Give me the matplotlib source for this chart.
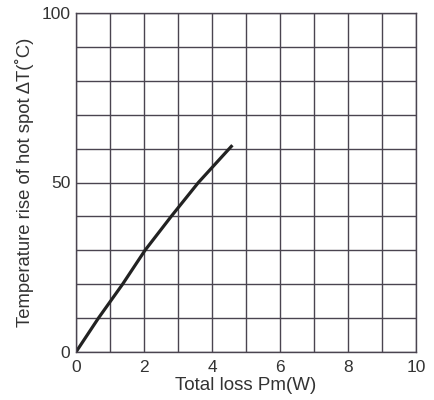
import matplotlib
matplotlib.use("Agg")
import matplotlib.pyplot as plt
import numpy as np

# Data
loss_w = [0.0, 0.66, 1.37, 2.03, 2.8, 3.6, 4.6]
temp_rise = [0.0, 10.0, 20.0, 30.0, 40.0, 50.0, 61.0]

x_ticks = [0, 2, 4, 6, 8, 10]
y_ticks = [0, 50, 100]
x_label = "Total loss Pm(W)"
y_label = "Temperature rise of hot spot \u0394T(\u02daC)"

plt.rcParams['font.family'] = ['Liberation Sans', 'DejaVu Sans']

fig = plt.figure(figsize=(4.35, 4.0), dpi=100)
ax = fig.add_axes([76/435, 48/400, 340/435, 339/400])

grid_color = "#4a4450"
ax.set_xlim(0, 10)
ax.set_ylim(0, 100)
ax.set_xticks(np.arange(0, 11, 1), minor=True)
ax.set_yticks(np.arange(0, 101, 10), minor=True)
ax.set_xticks(x_ticks)
ax.set_yticks(y_ticks)
ax.grid(True, which="both", color=grid_color, linewidth=1.0)
ax.set_axisbelow(True)
for s in ax.spines.values():
    s.set_color(grid_color)
    s.set_linewidth(1.0)
ax.tick_params(which="both", length=0, colors="#333333", labelsize=12.5)
ax.tick_params(axis="x", pad=6)
ax.tick_params(axis="y", pad=4)

ax.plot(loss_w, temp_rise, color="#222222", linewidth=2.3, solid_capstyle="butt")

ax.set_xlabel(x_label, fontsize=13.5, color="#333333", labelpad=1)
ax.set_ylabel(y_label, fontsize=13.3, color="#333333", labelpad=5)

fig.savefig("out.png", dpi=100)
